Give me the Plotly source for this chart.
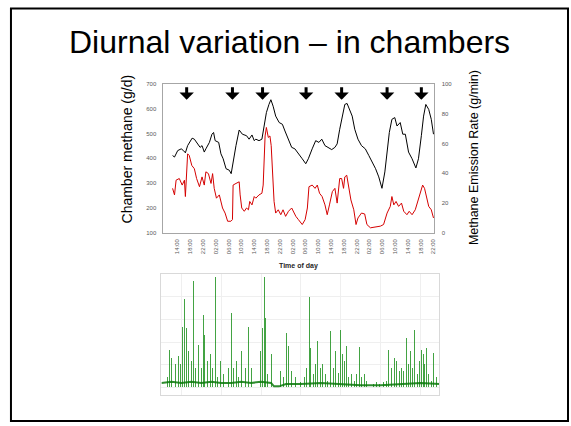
import plotly.graph_objects as go

W, H = 571, 426

# chamber methane (g/d), black line, left axis; x in hours from midnight of day 1
black_hours = [12.5, 13.1, 14.1, 15.2, 15.9, 16.5, 17.2, 18.6, 19.3, 20.3, 21.1, 21.7, 22.4, 22.9,
               24.0, 24.8, 25.3, 25.8, 26.9, 27.6, 28.3, 29.2, 30.2, 30.8, 31.4, 32.3, 33.3, 34.3,
               35.6, 36.4, 37.3, 38.0, 38.5, 39.5, 40.4, 41.1, 41.8, 42.6, 43.2, 43.9, 44.7, 45.8,
               46.8, 47.6, 48.7, 49.7, 50.7, 52.0, 53.0, 54.1, 54.9, 56.1, 57.2, 58.2, 59.1, 60.1,
               61.1, 62.2, 63.2, 63.9, 64.7, 65.5, 66.3, 67.0, 67.8, 68.6, 69.4, 70.4, 71.5, 72.7,
               73.8, 74.8, 75.9, 76.9, 77.9, 78.8, 79.5, 80.2, 81.0, 81.9, 82.6, 83.6, 84.4, 85.2,
               86.2, 87.3, 88.5, 89.3, 90.2, 90.9, 91.6, 92.5, 93.3, 94.0]
black_methane = [411, 405, 431, 438, 431, 422, 451, 481, 477, 460, 444, 451, 425, 438,
                 464, 497, 504, 471, 464, 418, 398, 358, 352, 338, 385, 451, 514, 497,
                 491, 477, 494, 471, 477, 471, 477, 524, 584, 617, 636, 610, 570, 544,
                 537, 510, 471, 444, 438, 418, 398, 378, 398, 438, 471, 464, 477, 451,
                 444, 435, 444, 458, 517, 570, 617, 621, 597, 570, 517, 477, 451, 438,
                 411, 385, 358, 325, 279, 345, 425, 504, 557, 564, 530, 544, 497, 497,
                 425, 398, 361, 398, 491, 570, 617, 597, 557, 497]

# methane emission rate (g/min), red line, right axis
red_hours = [12.5, 13.1, 13.6, 14.6, 15.5, 16.2, 16.5, 17.2, 17.7, 18.5, 19.3, 20.0, 20.9, 21.7,
             22.4, 22.9, 23.7, 24.5, 25.0, 25.5, 26.2, 27.1, 28.1, 28.9, 29.7, 30.7, 31.2, 31.4,
             32.3, 33.3, 33.6, 34.1, 34.9, 35.6, 36.2, 36.6, 37.3, 38.0, 38.5, 39.5, 40.4, 40.8,
             41.4, 41.8, 42.4, 42.9, 43.3, 43.7, 44.2, 44.7, 45.5, 46.3, 47.0, 47.8, 48.7, 49.7,
             50.4, 51.0, 51.8, 53.0, 53.9, 54.6, 55.1, 56.1, 57.0, 57.7, 58.4, 59.2, 60.1, 60.8,
             61.5, 62.4, 63.2, 63.9, 64.7, 65.3, 65.9, 66.3, 66.9, 67.5, 68.2, 69.1, 69.8, 70.4,
             71.5, 72.5, 73.2, 74.3, 75.9, 77.4, 78.4, 79.5, 80.5, 81.0, 81.6, 82.3, 83.1, 84.0,
             84.7, 85.7, 86.4, 87.3, 88.3, 89.1, 89.9, 90.6, 91.2, 91.9, 92.5, 93.3, 94.0]
red_emission = [29.8, 25.4, 35.3, 36.4, 32.0, 35.3, 24.3, 53.0, 51.9, 45.2, 43.0, 36.4, 30.9, 37.5,
                32.0, 40.9, 39.7, 33.1, 39.7, 29.8, 23.2, 25.4, 16.6, 13.2, 7.7, 7.7, 8.8, 32.0,
                33.1, 34.2, 25.4, 16.6, 14.4, 16.6, 15.4, 21.0, 18.7, 24.3, 23.2, 25.4, 26.5, 32.0,
                65.0, 70.7, 64.0, 65.0, 58.5, 43.0, 21.0, 13.2, 15.4, 12.1, 15.4, 11.0, 14.4, 16.6,
                13.2, 11.0, 8.8, 5.5, 8.8, 16.6, 30.9, 32.0, 29.8, 32.0, 26.5, 24.3, 18.7, 12.1,
                18.7, 27.6, 29.8, 19.9, 36.4, 36.4, 29.8, 37.5, 38.6, 32.0, 22.0, 15.4, 5.5, 9.9,
                13.2, 12.6, 5.5, 3.3, 3.8, 4.4, 5.5, 13.2, 17.7, 24.3, 18.7, 21.0, 17.7, 19.9,
                14.4, 12.1, 14.4, 12.1, 15.4, 21.0, 27.6, 32.0, 29.8, 24.3, 17.7, 15.4, 9.9]

arrow_hours = [16.9, 31.2, 40.6, 54.2, 65.3, 79.5, 90.2]

tick_hours = [14, 18, 22, 26, 30, 34, 38, 42, 46, 50, 54, 58, 62, 66, 70, 74, 78, 82, 86, 90, 94]
tick_labels = ["14:00", "18:00", "22:00", "02:00", "06:00", "10:00", "14:00", "18:00", "22:00",
               "02:00", "06:00", "10:00", "14:00", "18:00", "22:00", "02:00", "06:00", "10:00",
               "14:00", "18:00", "22:00"]

# lower picture: continuous record, spike peaks and baseline
spike_t = [4.0, 6.3, 8.7, 10.7, 13.0, 14.7, 17.3, 19.7, 22.0, 24.0, 25.3, 27.3, 30.7, 32.3, 34.7,
           38.0, 40.3, 42.3, 44.0, 46.3, 49.7, 52.0, 54.3, 56.3, 59.7, 63.0, 68.0, 70.7, 73.0,
           75.7, 78.0, 80.7, 84.7, 88.0, 90.7, 93.3, 95.3, 97.3, 99.7, 102.0, 104.3, 105.3, 107.3,
           111.3, 119.7, 123.0, 125.7, 128.0, 131.3, 134.7, 139.7, 144.0, 146.3, 148.7, 149.7,
           153.0, 155.3, 157.3, 159.7, 162.3, 164.7, 167.3, 169.7, 173.0, 175.3, 178.0, 180.3,
           182.0, 184.0, 185.7, 188.0, 191.3, 194.0, 196.3, 199.0, 201.3, 204.0, 206.3, 209.7,
           213.0, 216.3, 219.7, 223.0, 226.3, 228.7, 231.3, 234.0, 236.3, 239.0, 241.3, 243.7,
           246.0, 248.0, 250.7, 252.7, 254.7, 257.0, 259.7, 261.3, 263.0, 264.7, 266.3, 268.0,
           271.3, 273.7, 276.3]
spike_v = [17.4, 8.7, 33.3, 26.0, 47.8, 20.3, 27.5, 20.3, 53.6, 78.3, 52.2, 31.9, 23.2, 94.2, 17.4,
           37.7, 17.4, 63.8, 46.4, 23.2, 29.0, 17.4, 97.1, 8.7, 23.2, 11.6, 17.4, 65.2, 17.4,
           23.2, 8.7, 31.9, 17.4, 53.6, 17.4, 44.9, 20.3, 55.1, 31.9, 52.2, 97.1, 60.9, 11.6,
           29.0, 14.5, 8.7, 47.8, 36.2, 14.5, 8.7, 4.3, 8.7, 17.4, 79.7, 34.8,
           11.6, 20.3, 40.6, 17.4, 20.3, 11.6, 5.8, 49.3, 17.4, 31.9, 13.0, 50.7,
           29.0, 23.2, 36.2, 8.7, 11.6, 5.8, 11.6, 35.4, 8.7, 11.6, 5.8, 7.2,
           2.9, 4.3, 2.9, 4.3, 5.8, 33.3, 17.4, 26.1, 23.2, 14.5, 17.4, 14.5,
           43.5, 20.3, 31.9, 17.4, 50.7, 11.6, 23.2, 33.3, 29.0, 20.3, 34.8, 11.6,
           5.8, 30.4, 8.7]
base_t = [0, 10, 20, 30, 40, 50, 60, 70, 80, 90, 100, 110, 113, 118, 125, 140, 160, 180, 200,
          220, 240, 260, 279]
base_v = [4, 5, 4, 5, 4, 5, 4, 4, 5, 4, 5, 4, 1, 1, 3, 3, 4, 3, 2, 2, 3, 4, 3]


def px(x):
    return x / W


def py(y):
    return 1 - y / H


fig = go.Figure()
fig.add_trace(go.Scatter(x=black_hours, y=black_methane, mode="lines",
                         line=dict(color="black", width=1), xaxis="x", yaxis="y"))
fig.add_trace(go.Scatter(x=red_hours, y=red_emission, mode="lines",
                         line=dict(color="#d40000", width=1), xaxis="x", yaxis="y2"))
fig.add_trace(go.Bar(x=spike_t, y=spike_v, width=0.9, marker=dict(color="rgba(20,140,20,0.8)", line=dict(width=0)),
                     xaxis="x3", yaxis="y3"))
fig.add_trace(go.Scatter(x=base_t, y=base_v, mode="lines", line=dict(color="rgba(10,120,10,0.85)", width=2),
                         xaxis="x3", yaxis="y3"))

font = "Liberation Sans, Arial"
tickfont = dict(family=font, size=6, color="#595959")
frame = "#a6a6a6"


def label(text, x, y, size, angle=0, color="black"):
    return dict(text=text, x=px(x), y=py(y), xref="paper", yref="paper", xanchor="center",
                yanchor="middle", textangle=angle, showarrow=False,
                font=dict(family=font, size=size, color=color))


annotations = [
    label("Diurnal variation – in chambers", 291, 40, 32),
    label("Chamber methane (g/d)", 127, 148, 14, -90),
    label("Methane Emission Rate (g/min)", 475, 157, 12.5, -90),
    label("<b>Time of day</b>", 300, 267, 7, 0, "#262626"),
]
for h in arrow_hours:
    annotations.append(dict(x=h, y=636, xref="x", yref="y", text="", showarrow=True, ax=0, ay=-14,
                            arrowhead=1, arrowsize=0.8, arrowwidth=3, arrowcolor="black"))

fig.update_layout(
    width=W, height=H, margin=dict(l=0, r=0, t=0, b=0),
    paper_bgcolor="white", plot_bgcolor="white", showlegend=False, bargap=0,
    xaxis=dict(domain=[px(164), px(436)], range=[9.64, 94.3], tickvals=tick_hours, ticktext=tick_labels,
               tickangle=-90, tickfont=tickfont, showline=True, linecolor=frame, mirror=True,
               showgrid=False, zeroline=False, ticks="", anchor="y", ticklabelstandoff=3),
    yaxis=dict(domain=[py(233), py(82)], range=[100, 700], dtick=100, tickfont=tickfont,
               showline=True, linecolor=frame, showgrid=False, zeroline=False, ticks="",
               anchor="x", ticklabelstandoff=5),
    yaxis2=dict(overlaying="y", side="right", range=[0, 100], dtick=20, tickfont=tickfont,
                showline=True, linecolor=frame, showgrid=False, zeroline=False, ticks="",
                anchor="x", ticklabelstandoff=5),
    xaxis3=dict(domain=[px(162), px(441)], range=[0, 279], showticklabels=False, ticks="",
                showline=True, linecolor="#d9d9d9", mirror=True, showgrid=True, gridcolor="#efefef",
                dtick=40, tick0=20, zeroline=False, anchor="y3"),
    yaxis3=dict(domain=[py(398), py(275)], range=[-7, 100], showticklabels=False, ticks="",
                showline=True, linecolor="#d9d9d9", mirror=True, showgrid=True, gridcolor="#efefef",
                dtick=20, zeroline=False, anchor="x3"),
    annotations=annotations,
    shapes=[dict(type="rect", xref="paper", yref="paper", x0=px(11), x1=px(570), y0=py(424), y1=py(5.5),
                 line=dict(color="black", width=2))],
)

fig.write_html("out.html", config={"displayModeBar": False},
               post_script="document.body.style.margin='0';")
